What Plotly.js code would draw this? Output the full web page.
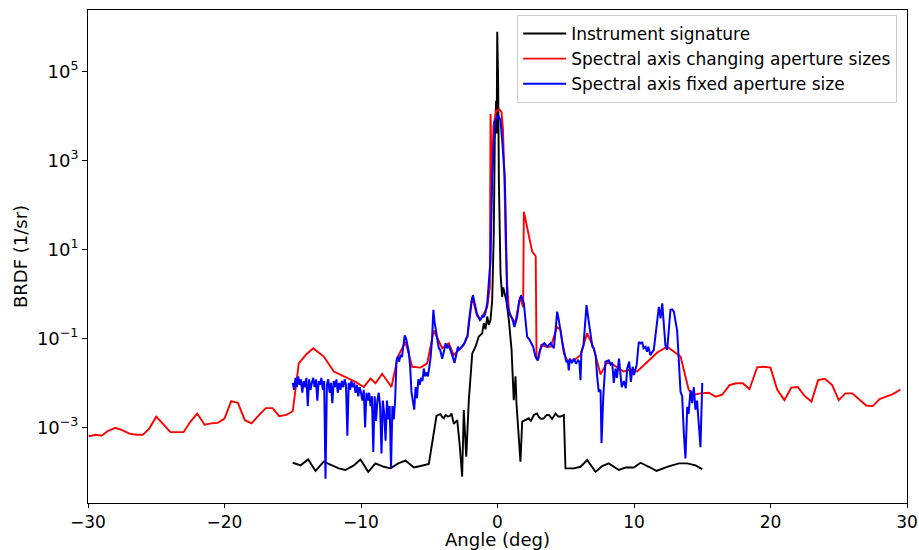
<!DOCTYPE html>
<html>
<head>
<meta charset="utf-8">
<script src="https://cdn.plot.ly/plotly-3.0.1.min.js"></script>
<style>html,body{margin:0;padding:0;background:#fff;}#chart{width:919px;height:550px;}</style>
</head>
<body>
<div id="chart"></div>
<script>
// Instrument signature (black)
const instX = [-15.0,-14.43,-13.87,-13.33,-12.73,-12.11,-11.63,-11.14,-10.53,-10.04,-9.47,-8.94,-8.33,-7.84,-7.27,-6.74,-6.13,-5.64,-5.03,
  -4.47,-4.18,-4.05,-3.93,-3.8,-3.64,-3.5,-3.37,-3.2,-3.08,-2.95,-2.78,-2.59,-2.47,-2.29,-2.10,-1.98,-1.85,-1.61,-1.37,-1.12,-1.0,-0.88,-0.75,-0.64,-0.51,-0.39,-0.27,-0.20,-0.10,-0.06,-0.02,0.05,0.10,0.22,0.34,0.42,0.51,0.64,0.83,1.03,1.19,1.32,1.39,1.56,1.68,1.81,2.05,2.29,2.45,2.66,2.9,3.03,3.2,3.39,3.6,3.76,4.0,4.25,4.45,4.62,4.86,4.98,
  5.59,6.08,6.57,7.18,7.67,8.15,8.89,9.38,9.99,10.48,11.08,11.65,12.43,13.28,13.90,14.51,15.0];
const instY = [1.6e-4,1.4e-4,1.9e-4,1.05e-4,1.7e-4,1.4e-4,1.2e-4,1.1e-4,1.4e-4,1.9e-4,1.0e-4,1.55e-4,1.3e-4,1.2e-4,1.55e-4,1.8e-4,1.25e-4,1.35e-4,1.5e-4,
  1.8e-3,2.0e-3,1.7e-3,1.6e-3,1.9e-3,1.75e-3,1.8e-3,2.05e-3,1.2e-3,1.3e-3,1.45e-3,4.4e-4,7.8e-5,2.45e-3,2.2e-4,4.1e-3,1.15e-2,4.6e-2,6.5e-2,1.1e-1,1.3e-1,2.2e-1,1.6e-1,3.1e-1,2.0e-1,2.6e-1,7.2e-1,2.3e1,2.9e3,2.2e4,4e3,7.8e5,5.4e4,3.6e2,2.9,0.85,1.4,1.0,0.72,0.26,5.5e-2,4.1e-3,1.4e-2,3.5e-3,7.4e-4,1.7e-4,1.35e-3,1.45e-3,1.6e-3,1.4e-3,1.9e-3,2.05e-3,1.7e-3,1.55e-3,1.6e-3,1.9e-3,1.9e-3,1.55e-3,2.05e-3,1.75e-3,1.75e-3,1.9e-3,1.2e-4,
  1.2e-4,1.3e-4,1.85e-4,1.0e-4,1.35e-4,1.55e-4,1.1e-4,1.25e-4,1.25e-4,1.6e-4,1.3e-4,1.05e-4,1.3e-4,1.55e-4,1.55e-4,1.4e-4,1.15e-4];

// Spectral axis changing aperture sizes (red)
const varX = [-29.94,-29.45,-29.0,-28.55,-27.99,-27.5,-26.96,-26.47,-25.99,-25.5,-25.0,-24.49,-23.96,-23.47,-23.0,-22.49,-22.0,-21.46,-20.97,-20.49,-20.0,-19.51,-19.02,-18.51,-18.02,-17.49,-16.97,-16.48,-15.99,-15.48,-15.0,
  -14.56,-14.0,-13.5,-12.73,-11.99,-11.01,-10.40,-9.79,-9.30,-8.94,-8.45,-7.77,-7.30,-6.74,-6.25,-5.64,-5.15,-4.67,-4.05,-3.57,-3.20,-2.47,-2.2,-2.0,-1.85,-1.5,-1.25,-1.0,-0.75,-0.56,-0.51,-0.42,-0.3,-0.1,0.15,0.3,0.4,0.5,0.6,0.72,0.83,1.0,1.3,1.65,1.88,1.93,2.54,2.80,2.86,2.97,3.2,3.64,3.89,4.37,4.62,4.86,5.1,5.59,6.08,6.57,7.05,7.55,8.04,8.52,9.25,9.74,10.23,10.97,11.70,12.43,12.92,13.41,14.01,14.38,14.87,
  15.48,15.97,16.46,17.0,17.49,17.97,18.46,19.02,19.51,20.0,20.49,21.02,21.52,22.0,22.49,23.0,23.49,23.98,24.52,25.0,25.49,25.99,26.47,27.01,27.49,27.99,28.48,28.96,29.52];
const varY = [6.3e-4,6.8e-4,6.5e-4,8.3e-4,9.8e-4,8.7e-4,7.2e-4,6.8e-4,6.8e-4,9.5e-4,1.74e-3,1.17e-3,7.8e-4,7.8e-4,7.8e-4,1.35e-3,2.04e-3,1.15e-3,1.23e-3,1.26e-3,1.58e-3,3.9e-3,3.55e-3,1.45e-3,1.23e-3,1.86e-3,2.7e-3,2.7e-3,1.78e-3,1.9e-3,2.3e-3,
  2.75e-2,4.4e-2,6.0e-2,3.9e-2,1.8e-2,1.3e-2,1.05e-2,8.1e-3,1.26e-2,9.8e-3,1.6e-2,8.1e-3,3.9e-2,8.3e-2,2.3e-2,2.2e-2,2.75e-2,1.5e-1,6.0e-2,7.8e-2,4.2e-2,7.1e-2,1.1e-1,3.5e-1,8.5e-1,3.2e-1,2.6e-1,3.6e-1,5.1e-1,1.45,1.1e4,3e2,6e3,1.3e4,1.4e4,1.2e4,5e3,5e2,1.3e1,1.5,4.4e-1,3.1e-1,2.2e-1,8.5e-1,5e-1,7e1,9,7,3.5e-2,3.2e-2,7e-2,6.5e-2,6.5e-2,1.8e-1,1.55e-1,4.6e-2,3.2e-2,3.2e-2,4.2e-2,1.3e-1,6.0e-2,1.55e-2,2.95e-2,2.5e-2,1.8e-2,2.0e-2,1.8e-2,2.95e-2,4.8e-2,6.5e-2,5.0e-2,3.9e-2,6.9e-3,5.4e-3,5.8e-3,
  6.0e-3,4.9e-3,5.4e-3,8.9e-3,9.8e-3,9.8e-3,7.2e-3,2.24e-2,2.3e-2,2.2e-2,7.1e-3,4.1e-3,7.8e-3,8.1e-3,5.1e-3,3.8e-3,1.15e-2,1.23e-2,8.9e-3,4.1e-3,5.8e-3,5.8e-3,4.3e-3,3.1e-3,3.0e-3,4.3e-3,4.9e-3,5.6e-3,7.1e-3];

// Spectral axis fixed aperture size (blue)
const fixX = [-15.0,-14.9,-14.8,-14.7,-14.6,-14.5,-14.4,-14.3,-14.2,-14.1,-14.0,-13.9,-13.8,-13.7,-13.6,-13.5,-13.4,-13.3,-13.2,-13.1,-13.0,-12.9,-12.8,-12.7,-12.6,-12.5,-12.4,-12.3,-12.2,-12.1,-12.0,-11.9,-11.8,-11.7,-11.6,-11.5,-11.4,-11.3,-11.2,-11.1,-11.0,-10.9,-10.8,-10.7,-10.6,-10.5,-10.4,-10.3,-10.2,-10.1,-10.0,-9.9,-9.8,-9.7,-9.6,-9.5,-9.4,-9.3,-9.2,-9.1,-9.0,-8.9,-8.8,-8.7,-8.6,-8.5,-8.4,-8.3,-8.2,-8.1,-8.0,-7.9,-7.8,-7.7,-7.6,-7.5,
  -7.4,-7.3,-7.2,-7.1,-7.0,-6.9,-6.8,-6.7,-6.6,-6.5,-6.4,-6.3,-6.2,-6.1,-6.0,-5.9,-5.8,-5.7,-5.6,-5.5,-5.4,-5.3,-5.2,-5.1,-5.0,-4.9,-4.8,-4.7,-4.6,-4.5,-4.4,-4.3,-4.2,-4.05,-3.9,-3.8,-3.7,-3.6,-3.5,-3.4,-3.3,-3.15,-3.0,-2.9,-2.8,-2.6,-2.5,-2.4,-2.3,-2.2,-2.1,-2.0,-1.9,-1.8,-1.7,-1.6,-1.5,-1.4,-1.3,-1.2,-1.1,-1.0,-0.9,-0.75,-0.64,-0.51,-0.39,-0.2,0.05,0.22,0.34,0.46,0.53,0.59,0.64,0.71,0.88,1.07,1.24,1.44,1.58,1.73,1.93,2.05,2.17,2.37,2.61,2.78,2.95,3.08,3.27,3.44,3.64,3.89,4.13,4.25,4.37,4.49,4.62,4.75,4.86,
  5.05,5.15,5.22,5.3,5.45,5.6,5.75,5.9,6.0,6.08,6.15,6.3,6.52,6.7,6.95,7.05,7.2,7.3,7.42,7.55,7.62,7.75,7.91,8.15,8.28,8.4,8.52,8.65,8.75,8.9,9.0,9.1,9.25,9.4,9.5,9.65,9.77,9.9,10.0,10.2,10.35,10.5,10.6,10.7,10.85,10.95,11.05,11.2,11.45,11.7,11.82,11.95,12.07,12.3,12.43,12.67,12.8,12.92,13.16,13.41,13.53,13.65,13.77,13.9,14.0,14.14,14.26,14.38,14.5,14.62,14.75,14.87,15.0];
const fixY = [1.0e-2,7e-3,1.3e-2,8e-3,1.4e-2,9e-3,1.2e-2,6e-3,1.1e-2,8e-3,1.3e-2,3e-3,1.2e-2,7e-3,1.0e-2,1.3e-2,8e-3,1.2e-2,4e-3,1.1e-2,9e-3,1.3e-2,7e-3,1.1e-2,7e-5,9e-3,1.2e-2,6e-3,1.0e-2,3.5e-3,1.1e-2,8e-3,1.2e-2,6e-3,1.0e-2,7e-3,1.1e-2,8e-3,1.2e-2,9e-3,6.5e-4,1.0e-2,7e-3,1.1e-2,8e-3,1.0e-2,6e-3,9e-3,5e-3,8e-3,6e-3,4e-3,7e-3,1.0e-3,6e-3,4e-3,6e-3,3e-3,5e-3,2.8e-4,5e-3,1.4e-3,4e-3,6e-3,3e-3,2.6e-4,4e-3,2e-3,5e-4,4e-3,1.5e-3,3e-3,1.2e-4,3e-3,1.5e-3,4e-3,
  3.2e-2,3.9e-2,3.0e-2,4.3e-2,3.8e-2,7e-2,1.17e-1,1.0e-1,6.5e-2,5e-2,2.3e-2,6e-3,4e-3,2.5e-3,8e-3,4.5e-3,1.2e-2,9e-3,1.3e-2,1.1e-2,2.1e-2,1.4e-2,1.7e-2,1.4e-2,2.2e-2,3.8e-2,9e-2,4.4e-1,2.2e-1,1.3e-1,8e-2,6e-2,5.5e-2,3.5e-2,5.5e-2,7.8e-2,6e-2,7e-2,6e-2,5e-2,4e-2,2.8e-2,5e-2,6.5e-2,5.5e-2,6.5e-2,7e-2,8e-2,1.0e-1,1.1e-1,2.3e-1,4.4e-1,7e-1,9.3e-1,7e-1,5.1e-1,3.5e-1,3.1e-1,2.6e-1,2.8e-1,3.3e-1,3.0e-1,3.6e-1,6.2e-1,1.45,5.8,3.6e2,7.4e3,1.05e4,8.1e3,2.9e3,6e2,4.3e2,7.6e1,3.4,6.2e-1,3.6e-1,2.8e-1,1.8e-1,3.1e-1,6.6e-1,9.3e-1,6.2e-1,2.6e-1,1.1e-1,9.1e-2,6.5e-2,3.9e-2,3.2e-2,5e-2,7.1e-2,7.8e-2,6.5e-2,7.8e-2,6e-2,1.5e-1,4e-1,2.6e-1,1.3e-1,8e-2,5.5e-2,
  2.9e-2,3.2e-2,1.9e-2,3.5e-2,2.8e-2,3.5e-2,2.7e-2,3.2e-2,3e-2,1.15e-2,5e-2,7e-2,5.6e-1,2.2e-1,6.5e-2,6e-2,3.9e-2,1.4e-2,6.3e-3,7e-3,4.4e-4,4.9e-3,3e-2,3.2e-2,2.6e-2,2.9e-2,1e-2,2.1e-2,1.3e-2,3.5e-2,1.9e-2,8e-3,1.1e-2,7.6e-3,2.1e-2,3e-2,1.05e-2,2.3e-2,1.5e-2,2.6e-2,8.3e-2,7.7e-2,8.3e-2,6e-2,6.5e-2,5e-2,6.5e-2,4.2e-2,5.5e-2,3.1e-1,5.1e-1,2.8e-1,6.1e-1,7e-2,5.5e-2,4.4e-1,4.5e-1,4e-1,1.5e-1,6.3e-3,5e-3,7.4e-4,2e-4,2.9e-3,2e-3,6.9e-3,3.5e-3,8e-3,2.5e-3,4e-3,1.4e-3,3.6e-4,1e-2];

const seriesNames = ["Instrument signature","Spectral axis changing aperture sizes","Spectral axis fixed aperture size"];
const yTickVals = [1e-3,1e-1,1e1,1e3,1e5];
const yTickText = ["10<sup>\u22123</sup>","10<sup>\u22121</sup>","10<sup>1</sup>","10<sup>3</sup>","10<sup>5</sup>"];
const xTickVals = [-30,-20,-10,0,10,20,30];
const xTickText = ["\u221230","\u221220","\u221210","0","10","20","30"];
const xTitle = "Angle (deg)";
const yTitle = "BRDF (1/sr)";

const font = "DejaVu Sans, sans-serif";
const traces = [
  {x: instX, y: instY, name: seriesNames[0], mode: "lines", line: {color: "#000000", width: 1.9}},
  {x: varX, y: varY, name: seriesNames[1], mode: "lines", line: {color: "#ff0000", width: 1.9}},
  {x: fixX, y: fixY, name: seriesNames[2], mode: "lines", line: {color: "#0000ff", width: 2}}
];
const layout = {
  width: 919, height: 550,
  margin: {l: 88, r: 12, t: 10, b: 47},
  paper_bgcolor: "#fff", plot_bgcolor: "#fff",
  font: {family: font, size: 18, color: "#000"},
  showlegend: true,
  legend: {x: 0.524, y: 0.99, xanchor: "left", yanchor: "top", bgcolor: "#fff", bordercolor: "#cccccc", borderwidth: 1,
           font: {family: font, size: 17}, tracegroupgap: 0, itemwidth: 43},
  xaxis: {
    range: [-30, 30], tickvals: xTickVals, ticktext: xTickText, tickfont: {family: font, size: 17},
    showgrid: false, zeroline: false, showline: true, mirror: true, linecolor: "#000", linewidth: 1,
    ticks: "outside", ticklen: 4, tickcolor: "#000",
    title: {text: xTitle, font: {family: font, size: 18}, standoff: 6}
  },
  yaxis: {
    type: "log", range: [-4.70, 6.38], tickvals: yTickVals, ticktext: yTickText, tickfont: {family: font, size: 18},
    showgrid: false, zeroline: false, showline: true, mirror: true, linecolor: "#000", linewidth: 1,
    ticks: "outside", ticklen: 5, tickcolor: "#000",
    title: {text: yTitle, font: {family: font, size: 18}, standoff: 4}
  }
};
Plotly.newPlot("chart", traces, layout, {displayModeBar: false, staticPlot: true});
</script>
</body>
</html>
